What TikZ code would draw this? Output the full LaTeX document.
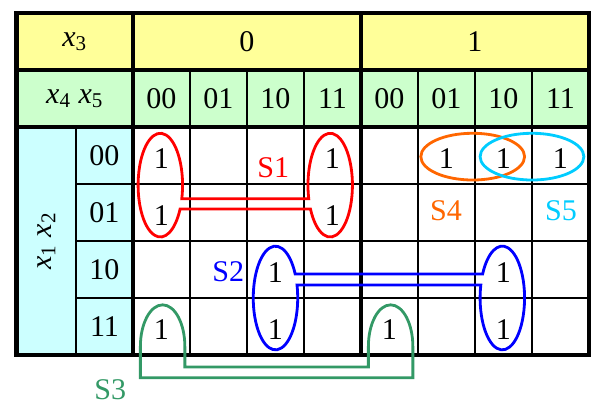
\documentclass[tikz,border=0pt]{standalone}
\usepackage{fontspec}
\setmainfont{Liberation Serif}
\usetikzlibrary{calc}
\definecolor{headyellow}{RGB}{255,255,153}
\definecolor{headgreen}{RGB}{204,255,204}
\definecolor{headcyan}{RGB}{204,255,255}
\definecolor{groupgreen}{RGB}{51,153,102}
\definecolor{grouporange}{RGB}{255,102,0}
\definecolor{groupcyan}{RGB}{0,204,255}
\newcommand{\xv}[1]{\textit{x}\textsubscript{#1}}

\begin{document}
\begin{tikzpicture}[every node/.style={font=\fontsize{15}{17}\selectfont},
  thingrid/.style={line width=0.6pt},
  thickgrid/.style={line width=2.4pt},
  loopline/.style={line width=1.4pt}]

\useasboundingbox (-2.333,2.228) rectangle (8.281,-4.982);

% fills
  \fill[headyellow] (-2.04,1) rectangle (8,2);
  \fill[headgreen] (-2.04,0) rectangle (8,1);
  \fill[headcyan] (-2.04,-4) rectangle (0,0);

% thin grid
  \foreach \c in {1,2,3,5,6,7} \draw[thingrid] (\c,1) -- (\c,-4);
  \foreach \r in {-1,-2,-3} \draw[thingrid] (-1,\r) -- (8,\r);
  \draw[thingrid] (-1,0) -- (-1,-4);

% thick grid
  \draw[thickgrid] (-2.04,2) rectangle (8,-4);
  \draw[thickgrid] (0,2) -- (0,-4);
  \draw[thickgrid] (4,2) -- (4,-4);
  \draw[thickgrid] (-2.04,1) -- (8,1);
  \draw[thickgrid] (-2.04,0) -- (8,0);

% header
  \node (x3) at (-1.02,1.5) {\xv{3}};
  \node (h0) at (2,1.5) {0};
  \node (h1) at (6,1.5) {1};
  \node (x45) at (-1.02,0.5) {\xv{4} \xv{5}};
  \foreach \lab [count=\i from 0] in {00,01,10,11,00,01,10,11}
    \node (col\i) at (\i+0.5,0.5) {\lab};

% rows
  \node[rotate=90] (x12) at (-1.52,-2) {\xv{1} \xv{2}};
  \foreach \lab [count=\i from 0] in {00,01,10,11}
    \node (row\i) at (-0.5,-\i-0.5) {\lab};

% ones
  \foreach \r/\c in {0/0,0/3,0/5,0/6,0/7,1/0,1/3,2/2,2/6,3/0,3/2,3/4,3/6}
    \node (m\r\c) at (\c+0.5,-\r-0.55) {1};

% S1
  \coordinate (s1l) at (0.48,-1.02);
  \coordinate (s1r) at (3.46,-1.02);
  \draw[loopline, red] ([shift={(-15.3:0.39 and 0.91)}]s1l) arc[start angle=-15.3, end angle=332.5, x radius=0.39, y radius=0.91]
    -- ([shift={(207.5:0.39 and 0.91)}]s1r) arc[start angle=207.5, end angle=555.3, x radius=0.39, y radius=0.91] -- cycle;
  \node[red] (s1) at (2.46,-0.72) {S1};

% S2
  \coordinate (s2l) at (2.5,-3.0);
  \coordinate (s2r) at (6.48,-3.0);
  \draw[loopline, blue] ([shift={(27.5:0.39 and 0.91)}]s2l) arc[start angle=27.5, end angle=374.6, x radius=0.39, y radius=0.91]
    -- ([shift={(165.4:0.39 and 0.91)}]s2r) arc[start angle=165.4, end angle=512.5, x radius=0.39, y radius=0.91] -- cycle;
  \node[blue] (s2) at (1.67,-2.54) {S2};

% S3
  \coordinate (s3l) at (0.52,-3.85);
  \coordinate (s3r) at (4.52,-3.85);
  \draw[loopline, groupgreen] ($(s3l)+(0.39,-0.36)$) -- ($(s3l)+(0.39,0)$) arc[start angle=0, end angle=180, x radius=0.39, y radius=0.73]
    -- ($(s3l)+(-0.39,-0.55)$) -- ($(s3r)+(0.39,-0.55)$) -- ($(s3r)+(0.39,0)$) arc[start angle=0, end angle=180, x radius=0.39, y radius=0.73]
    -- ($(s3r)+(-0.39,-0.36)$) -- cycle;
  \node[groupgreen] (s3) at (-0.40,-4.61) {S3};

% S4, S5
  \draw[loopline, grouporange] (5.96,-0.52) ellipse [x radius=0.91, y radius=0.41];
  \node[grouporange] (s4) at (5.49,-1.46) {S4};
  \draw[loopline, groupcyan] (7.0,-0.52) ellipse [x radius=0.91, y radius=0.41];
  \node[groupcyan] (s5) at (7.51,-1.46) {S5};

\end{tikzpicture}
\end{document}
